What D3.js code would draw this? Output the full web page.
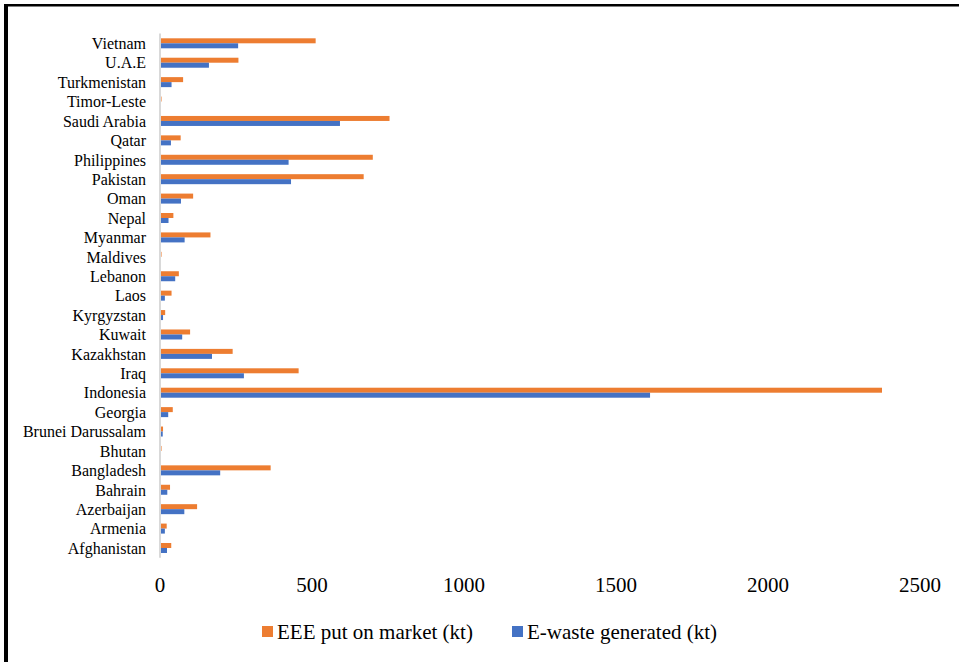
<!DOCTYPE html>
<html>
<head>
<meta charset="utf-8">
<script src="https://cdn.jsdelivr.net/npm/d3@7"></script>
<style>
  html, body { margin: 0; padding: 0; background: #fff; }
  svg { display: block; }
</style>
</head>
<body>
<svg id="chart" width="959" height="662"></svg>
<script>
// Categories listed bottom to top (as in the chart)
const categories = ["Afghanistan","Armenia","Azerbaijan","Bahrain","Bangladesh","Bhutan","Brunei Darussalam","Georgia","Indonesia","Iraq","Kazakhstan","Kuwait","Kyrgyzstan","Laos","Lebanon","Maldives","Myanmar","Nepal","Oman","Pakistan","Philippines","Qatar","Saudi Arabia","Timor-Leste","Turkmenistan","U.A.E","Vietnam"];
const eeeOnMarket = [37,22,122,33,364,5,10,42,2375,456,239,99,17,38,62,5,166,44,109,670,700,68,755,5,76,258,512];
const eWasteGenerated = [23,16,80,24,198,3,9,27,1612,276,171,73,10,16,50,3,81,28,69,431,423,36,592,3,38,161,257];
const xTicks = [0,500,1000,1500,2000,2500];
const seriesNames = ["EEE put on market (kt)", "E-waste generated (kt)"];
const seriesColors = ["#ED7D31", "#4472C4"];

const FONT = "'Liberation Serif', 'Times New Roman', Times, 'DejaVu Serif', serif";
const svg = d3.select("#chart").attr("font-family", FONT);

// Frame (top and left edges visible)
svg.append("rect").attr("x",4).attr("y",4).attr("width",955).attr("height",2.5).attr("fill","#000");
svg.append("rect").attr("x",4).attr("y",4).attr("width",4).attr("height",658).attr("fill","#000");

const x = d3.scaleLinear().domain([0,2500]).range([160,920]);
const y = d3.scaleBand().domain(categories.slice().reverse()).range([33.6,557.7])
  .paddingInner(0.485).paddingOuter(0.2425);
const ySub = d3.scaleBand().domain([0,1]).range([0,y.bandwidth()]);

const rows = categories.map((c,i) => ({c, v:[eeeOnMarket[i], eWasteGenerated[i]]}));

const g = svg.append("g");
rows.forEach(r => {
  r.v.forEach((val, s) => {
    g.append("rect")
      .attr("x", x(0))
      .attr("y", y(r.c) + ySub(s))
      .attr("width", x(val) - x(0))
      .attr("height", ySub.bandwidth())
      .attr("fill", seriesColors[s]);
  });
});

// Axis line
svg.append("line")
  .attr("x1", x(0)).attr("x2", x(0))
  .attr("y1", y.range()[0]).attr("y2", y.range()[1])
  .attr("stroke", "#d9d9d9").attr("stroke-width", 2);

// Category labels
svg.append("g").selectAll("text").data(categories).join("text")
  .attr("x", 146)
  .attr("y", d => y(d) + y.bandwidth()/2)
  .attr("dy", "0.36em")
  .attr("text-anchor", "end")
  .attr("font-family", FONT)
  .attr("font-size", 16)
  .attr("fill", "#000")
  .text(d => d);

// X tick labels
svg.append("g").selectAll("text").data(xTicks).join("text")
  .attr("x", d => x(d))
  .attr("y", 592)
  .attr("text-anchor", "middle")
  .attr("font-family", FONT)
  .attr("font-size", 21)
  .attr("fill", "#000")
  .text(d => d);

// Legend
const legendX = [262, 512];
const lg = svg.append("g");
seriesNames.forEach((name, i) => {
  lg.append("rect").attr("x", legendX[i]).attr("y", 626).attr("width", 11).attr("height", 11).attr("fill", seriesColors[i]);
  lg.append("text").attr("x", legendX[i] + 15).attr("y", 639)
    .attr("font-family", FONT).attr("font-size", 21).attr("fill", "#000").text(name);
});
</script>
</body>
</html>
